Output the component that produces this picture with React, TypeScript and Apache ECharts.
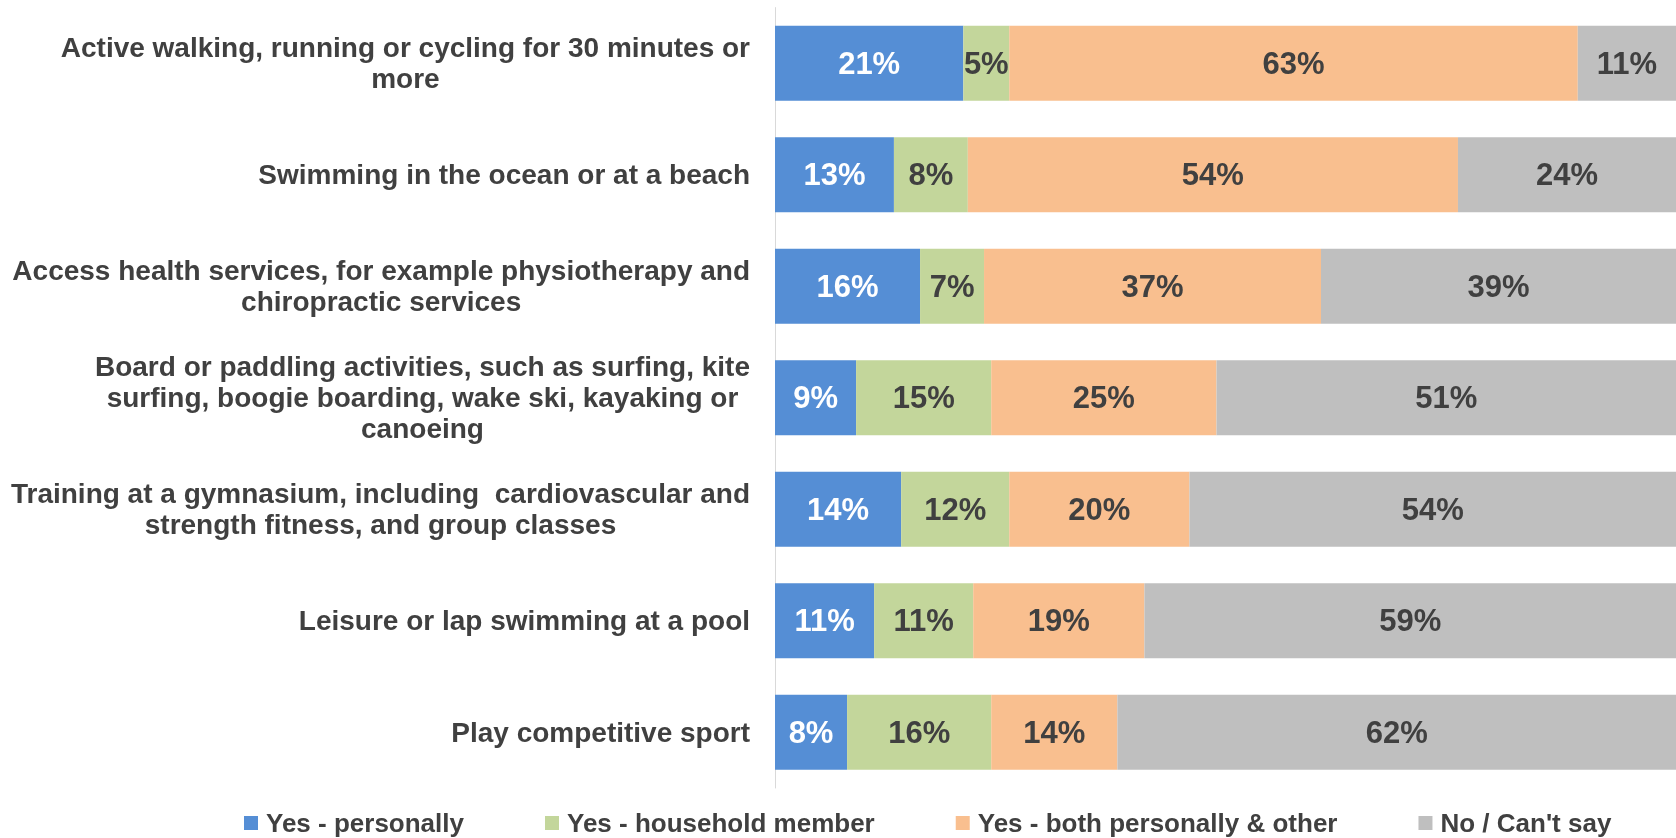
import React, { useEffect, useRef } from "react";
import * as echarts from "echarts";

const categories: string[] = [
  "Active walking, running or cycling for 30 minutes or\nmore",
  "Swimming in the ocean or at a beach",
  "Access health services, for example physiotherapy and\nchiropractic services",
  "Board or paddling activities, such as surfing, kite\nsurfing, boogie boarding, wake ski, kayaking or\ncanoeing",
  "Training at a gymnasium, including  cardiovascular and\nstrength fitness, and group classes",
  "Leisure or lap swimming at a pool",
  "Play competitive sport",
];

const seriesNames: string[] = [
  "Yes - personally",
  "Yes - household member",
  "Yes - both personally & other",
  "No / Can't say",
];

const personally: number[] = [20.9, 13.2, 16.1, 9, 14, 11, 8];
const household: number[] = [5.1, 8.2, 7.1, 15, 12, 11, 16];
const both: number[] = [63.1, 54.4, 37.4, 25, 20, 19, 14];
const noCantSay: number[] = [10.9, 24.2, 39.4, 51, 54, 59, 62];

const colors: string[] = ["#558ED5", "#C3D69B", "#F9BF8F", "#BFBFBF"];
const labelColors: string[] = ["#FFFFFF", "#404040", "#404040", "#404040"];

const FONT = "Liberation Sans, Arial, sans-serif";

export default function App() {
  const ref = useRef<HTMLDivElement>(null);

  useEffect(() => {
    if (!ref.current) return;
    const chart = echarts.init(ref.current, null, { renderer: "svg" });
    const values = [personally, household, both, noCantSay];
    chart.setOption({
      animation: false,
      textStyle: { fontFamily: FONT },
      grid: { left: 775, right: -7, top: 7.6, bottom: 50, containLabel: false },
      legend: {
        data: seriesNames,
        left: 239,
        top: 805,
        itemWidth: 14,
        itemHeight: 14,
        itemGap: 81,
        icon: "rect",
        textStyle: {
          fontFamily: FONT,
          fontSize: 26,
          fontWeight: "bold",
          color: "#404040",
          padding: [0, 0, 0, 3],
        },
      },
      xAxis: {
        type: "value",
        min: 0,
        max: 100,
        show: false,
        splitLine: { show: false },
      },
      yAxis: {
        type: "category",
        data: categories,
        inverse: true,
        axisLine: { show: true, lineStyle: { color: "#D9D9D9", width: 1 } },
        axisTick: { show: false },
        axisLabel: {
          margin: 25,
          align: "right",
          formatter: (v: string) =>
            v
              .split("\n")
              .map((l) => `{c|${l}}`)
              .join("\n"),
          rich: {
            c: {
              align: "center",
              fontFamily: FONT,
              fontSize: 28,
              fontWeight: "bold",
              color: "#404040",
              lineHeight: 31,
            },
          },
        },
      },
      series: seriesNames.map((name, i) => ({
        name,
        type: "bar",
        stack: "total",
        barWidth: 75,
        data: values[i],
        itemStyle: { color: colors[i] },
        label: {
          show: true,
          position: "inside",
          formatter: (p: any) => `${Math.round(p.value)}%`,
          fontFamily: FONT,
          fontSize: 31,
          fontWeight: "bold",
          color: labelColors[i],
        },
      })),
    });
    return () => chart.dispose();
  }, []);

  return (
    <div
      ref={ref}
      style={{ position: "fixed", left: 0, top: 0, width: 1676, height: 838 }}
    />
  );
}
